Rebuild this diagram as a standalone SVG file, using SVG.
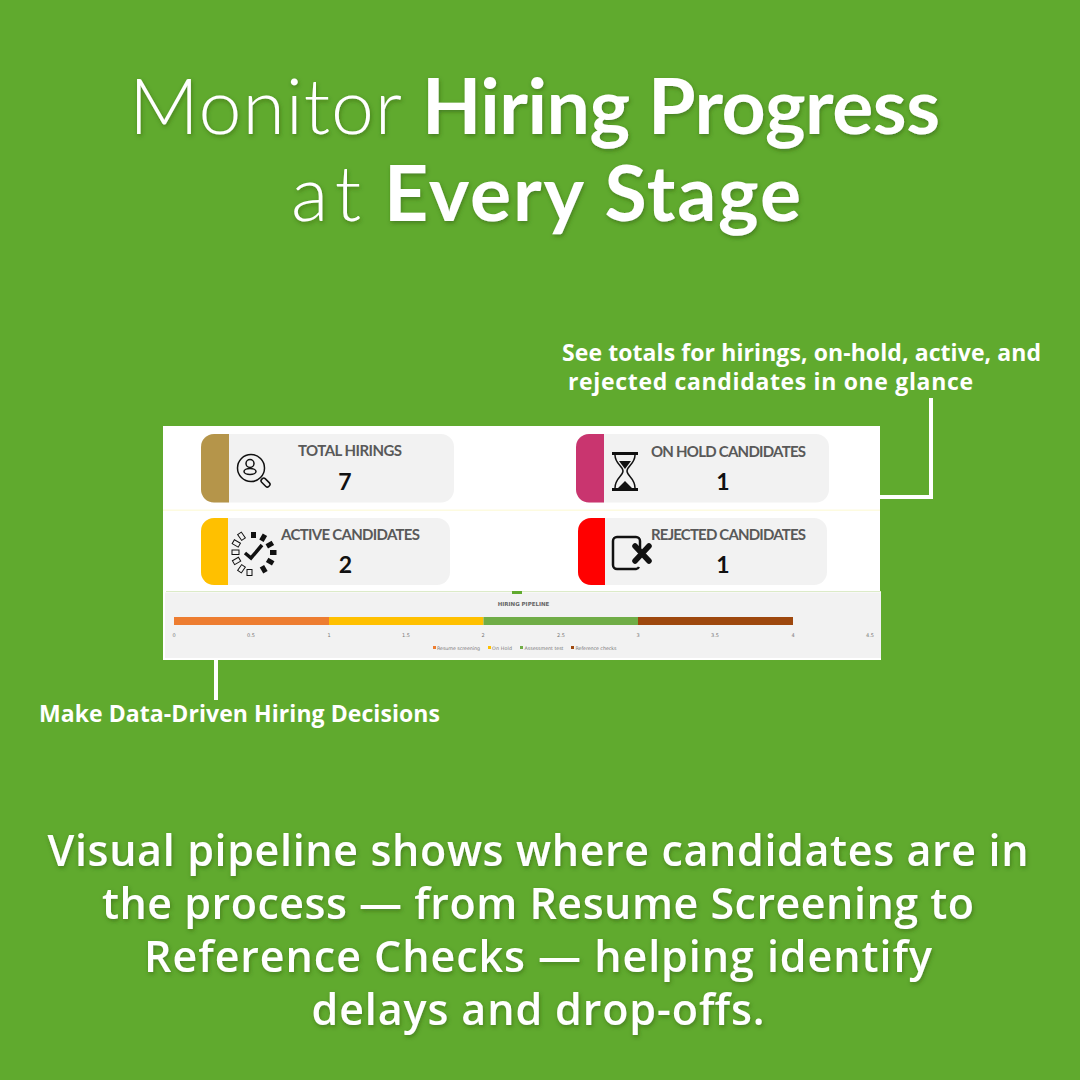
<svg xmlns="http://www.w3.org/2000/svg" width="1080" height="1080" viewBox="0 0 1080 1080">
<defs>
<filter id="soft" x="-5%" y="-20%" width="110%" height="140%"><feDropShadow dx="1" dy="2" stdDeviation="2" flood-color="#2e5a10" flood-opacity="0.55"/></filter>
</defs>
<style>
.ti{font-family:"Lato","Open Sans",sans-serif;font-size:77px;fill:#fff}
.l{font-weight:300}
.b{font-weight:700}
.body{font-family:"Open Sans","Lato",sans-serif;font-size:43px;font-weight:600;fill:#fff;text-anchor:middle}
.call{font-family:"Open Sans","Lato",sans-serif;font-size:23px;font-weight:700;fill:#fff}
.card{fill:#f2f2f2}
.ct{font-family:"Lato","Open Sans",sans-serif;font-size:15px;font-weight:700;fill:#595959;text-anchor:middle}
.cn{font-family:"Lato","Open Sans",sans-serif;font-size:23px;font-weight:700;fill:#111;text-anchor:middle}
.ax{font-family:"DejaVu Sans",sans-serif;font-size:5px;fill:#777;text-anchor:middle}
.lg{font-family:"DejaVu Sans",sans-serif;font-size:4.800px;fill:#777}
.ln{fill:none;stroke:#fff;stroke-width:4}
.ic{fill:none;stroke:#111;stroke-width:1.500}
.ib{fill:#111;stroke:none}
</style>
<rect width="1080" height="1080" fill="#60aa2e"/>
<g id="title" filter="url(#soft)">
<text class="ti l" x="129" y="134" textLength="273">Monitor</text>
<text class="ti b" x="422" y="134" textLength="518">Hiring Progress</text>
<text class="ti l" x="291" y="221" textLength="70">at</text>
<text class="ti b" x="384" y="221" textLength="417">Every Stage</text>
</g>
<g id="callout-totals">
<text class="call" x="562" y="361" textLength="479">See totals for hirings, on-hold, active, and</text>
<text class="call" x="568" y="390" textLength="405">rejected candidates in one glance</text>
</g>
<g id="callout-data">
<text class="call" x="39" y="722" textLength="401">Make Data-Driven Hiring Decisions</text>
</g>
<g id="dashboard-bg">
<rect x="163" y="426" width="717" height="165" fill="#fff"/>
<rect x="163" y="509.500" width="717" height="1.500" fill="#fdfbe0"/>
<rect x="163" y="591" width="718" height="69" fill="#fff"/>
<rect x="166" y="591" width="715" height="1" fill="#dcebc8"/>
<rect x="165" y="592.500" width="716" height="65.500" fill="#f2f2f2"/>
<rect x="512" y="591" width="10" height="3" fill="#60aa2e"/>
</g>
<g id="connectors">
<path class="ln" d="M880 497H931V398"/>
<path class="ln" d="M216 660V700"/>
</g>
<g id="card-total">
<rect class="card" x="201" y="434" width="253" height="68.500" rx="13"/>
<path d="M229 434H214a13 13 0 0 0-13 13V489.500a13 13 0 0 0 13 13H229Z" fill="#b5954a"/>
<circle class="ic" cx="251" cy="468" r="13.500"/>
<circle class="ic" cx="250" cy="463.500" r="4"/>
<ellipse class="ic" cx="250" cy="471.500" rx="6" ry="3"/>
<rect class="ic" x="-2.500" y="0" width="5" height="10" rx="2" transform="translate(262 479) rotate(-45)"/>
<text class="ct" x="350" y="456" textLength="104">TOTAL HIRINGS</text>
<text class="cn" x="345" y="490">7</text>
</g>
<g id="card-onhold">
<rect class="card" x="576" y="434" width="253" height="68.500" rx="13"/>
<path d="M604 434H589a13 13 0 0 0-13 13V489.500a13 13 0 0 0 13 13H604Z" fill="#c9356f"/>
<path class="ib" d="M612 452h26v3h-26zM612 488h26v3h-26z"/>
<path class="ic" stroke-width="2" d="M615 455c0 9 8 11 8 16s-8 7-8 17M635 455c0 9-8 11-8 16s8 7 8 17"/>
<path class="ib" d="M619 461h12l-6 8zM618 488l7-7 7 7z"/>
<text class="ct" x="728.500" y="456.500" textLength="155">ON HOLD CANDIDATES</text>
<text class="cn" x="723" y="490">1</text>
</g>
<g id="card-active">
<rect class="card" x="201" y="518" width="249" height="67" rx="13"/>
<path d="M228 518H214a13 13 0 0 0-13 13V572a13 13 0 0 0 13 13H228Z" fill="#ffc000"/>
<g fill="none" stroke="#111" stroke-width="1">
<rect x="232" y="550" width="7" height="4.500"/>
<rect x="233" y="541" width="7" height="4.500" transform="rotate(30 236 543)"/>
<rect x="238" y="533.500" width="7" height="4.500" transform="rotate(55 241 536)"/>
<rect x="233" y="559" width="7" height="4.500" transform="rotate(-30 236 561)"/>
<rect x="238" y="567" width="7" height="4.500" transform="rotate(-55 241 569)"/>
<rect x="247" y="569.500" width="5" height="6"/>
</g>
<g class="ib">
<rect x="251" y="532" width="5" height="6"/>
<rect x="261" y="534" width="5" height="7" transform="rotate(30 263 537)"/>
<rect x="268" y="541" width="5" height="7" transform="rotate(60 270 544)"/>
<rect x="270" y="550" width="6.500" height="5"/>
<rect x="267" y="559" width="7" height="5" transform="rotate(30 270 561)"/>
<rect x="261" y="566" width="5" height="7" transform="rotate(-30 263 569)"/>
</g>
<path d="M245 553l6 5 11-13" fill="none" stroke="#111" stroke-width="3.500"/>
<text class="ct" x="350.500" y="540" textLength="139">ACTIVE CANDIDATES</text>
<text class="cn" x="345.500" y="573">2</text>
</g>
<g id="card-rejected">
<rect class="card" x="578" y="518" width="249" height="67" rx="13"/>
<path d="M605 518H591a13 13 0 0 0-13 13V572a13 13 0 0 0 13 13H605Z" fill="#f00"/>
<path d="M640 549V541a4 4 0 0 0-4-4H617a4 4 0 0 0-4 4V565a4 4 0 0 0 4 4H636a4 4 0 0 0 3-2" fill="none" stroke="#111" stroke-width="2.500"/>
<path d="M635 546L649 561M649 546L635 561" fill="none" stroke="#111" stroke-width="5.500" stroke-linecap="round"/>
<text class="ct" x="728.500" y="540" textLength="155">REJECTED CANDIDATES</text>
<text class="cn" x="723" y="573">1</text>
</g>
<g id="chart">
<text x="523.500" y="605.500" text-anchor="middle" font-family="DejaVu Sans, sans-serif" font-size="5.500" font-weight="700" fill="#666">HIRING PIPELINE</text>
<rect x="174" y="617" width="155" height="8" fill="#ed7d31"/>
<rect x="329" y="617" width="154.500" height="8" fill="#ffc000"/>
<rect x="483.500" y="617" width="154.500" height="8" fill="#70ad47"/>
<rect x="638" y="617" width="155" height="8" fill="#9e480e"/>
<text class="ax" x="174" y="637">0</text>
<text class="ax" x="251" y="637">0.5</text>
<text class="ax" x="329" y="637">1</text>
<text class="ax" x="406" y="637">1.5</text>
<text class="ax" x="483" y="637">2</text>
<text class="ax" x="561" y="637">2.5</text>
<text class="ax" x="638" y="637">3</text>
<text class="ax" x="715" y="637">3.5</text>
<text class="ax" x="793" y="637">4</text>
<text class="ax" x="870" y="637">4.5</text>
<rect x="433" y="646" width="3" height="3" fill="#ed7d31"/><text class="lg" x="437" y="649.500" textLength="43">Resume screening</text>
<rect x="488" y="646" width="3" height="3" fill="#ffc000"/><text class="lg" x="492" y="649.500" textLength="20">On Hold</text>
<rect x="520" y="646" width="3" height="3" fill="#70ad47"/><text class="lg" x="524.500" y="649.500" textLength="39">Assessment test</text>
<rect x="571" y="646" width="3" height="3" fill="#9e480e"/><text class="lg" x="575.500" y="649.500" textLength="41">Reference checks</text>
</g>
<g id="body-text" filter="url(#soft)">
<text class="body" x="538" y="866" textLength="981">Visual pipeline shows where candidates are in</text>
<text class="body" x="538" y="919" textLength="872">the process — from Resume Screening to</text>
<text class="body" x="538" y="972" textLength="788">Reference Checks — helping identify</text>
<text class="body" x="538" y="1025" textLength="453">delays and drop-offs.</text>
</g>
</svg>
